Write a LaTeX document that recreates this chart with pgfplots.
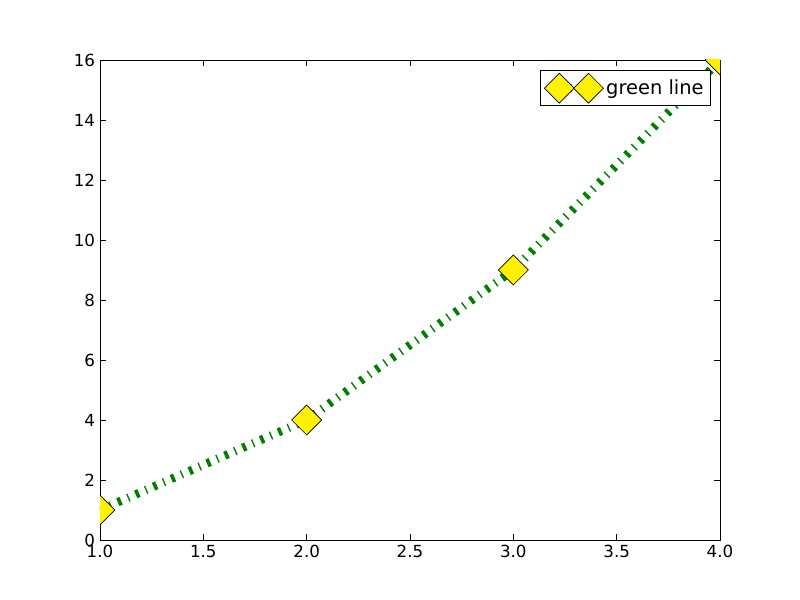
\documentclass[border=0pt]{standalone}
\usepackage{pgfplots}
\pgfplotsset{compat=1.18}
\usepackage{fontspec}
\setmainfont{DejaVu Sans}
\definecolor{mplgreen}{rgb}{0,0.5,0}
\begin{document}
\begin{tikzpicture}
\begin{axis}[
  scale only axis,
  width=446.4pt, height=345.6pt,
  xmin=1, xmax=4, ymin=0, ymax=16,
  xtick={1,1.5,2,2.5,3,3.5,4},
  ytick={0,2,4,6,8,10,12,14,16},
  xticklabel style={/pgf/number format/fixed,/pgf/number format/precision=1,/pgf/number format/fixed zerofill},
  /pgf/number format/assume math mode=true,
  tick label style={font=\fontsize{12}{14}\selectfont},
  tick align=inside,
  major tick length=4pt,
  tick style={black, line width=0.5pt},
  axis line style={black, line width=0.7pt},
  xtick pos=both, ytick pos=both,
  clip marker paths=true,
  legend style={at={(rel axis cs:0.9855,0.979)}, anchor=north east, draw=black, line width=0.6pt,
    font=\fontsize{14}{16}\selectfont, inner xsep=3pt, inner ysep=2pt},
  legend image code/.code={
    \draw[#1] plot coordinates {(0pt,0pt) (21pt,0pt)};
  },
]
\addplot[color=mplgreen, line width=6pt, dash pattern=on 2.6pt off 5.2pt on 1pt off 5.2pt,
  mark=square*, mark size=7.6pt,
  mark options={rotate=45, solid, fill=yellow, draw=black, line width=0.5pt}]
  coordinates {(1,1) (2,4) (3,9) (4,16)};
\addlegendentry{green line}
\end{axis}
\path ([shift={(-72pt,-43.2pt)}]current axis.south west) rectangle ([shift={(57.6pt,43.2pt)}]current axis.north east);
\end{tikzpicture}
\end{document}
